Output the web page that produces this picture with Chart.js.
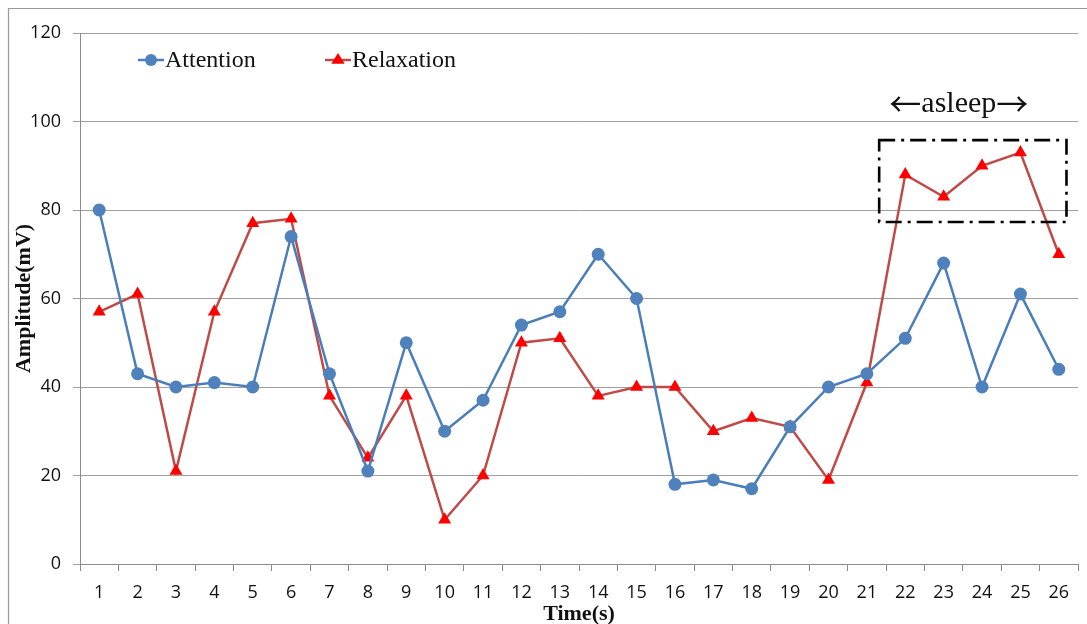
<!DOCTYPE html>
<html>
<head>
<meta charset="utf-8">
<title>Attention and Relaxation amplitude over time</title>
<script src="https://cdn.jsdelivr.net/npm/chart.js@4/dist/chart.umd.min.js"></script>
<style>
  html, body { margin: 0; padding: 0; background: #ffffff; }
  #wrap { width: 1087px; height: 624px; position: relative; }
</style>
</head>
<body>
<div id="wrap"><canvas id="chart"></canvas></div>
<script>
// Time axis (seconds)
const timeLabels = ['1','2','3','4','5','6','7','8','9','10','11','12','13',
                    '14','15','16','17','18','19','20','21','22','23','24','25','26'];

// Amplitude readings (mV)
const attention  = [80, 43, 40, 41, 40, 74, 43, 21, 50, 30, 37, 54, 57,
                    70, 60, 18, 19, 17, 31, 40, 43, 51, 68, 40, 61, 44];
const relaxation = [57, 61, 21, 57, 77, 78, 38, 24, 38, 10, 20, 50, 51,
                    38, 40, 40, 30, 33, 31, 19, 41, 88, 83, 90, 93, 70];

// Y axis range and step
const yMin = 0, yMax = 120, yStep = 20;

// Region marked as sleep: category-index span and amplitude span
const asleepX = [20.32, 25.2];
const asleepY = [77.3, 95.8];
const asleepWord = 'asleep';
const arrowLeft = '\u2190', arrowRight = '\u2192';

const serif = '"Liberation Serif", "Times New Roman", serif';
const sans = '"Open Sans", "Liberation Sans", Arial, sans-serif';
const arrowFont = '"Noto Sans CJK JP", "DejaVu Sans", sans-serif';

const styles = {
  attention:  { line: '#4A7EBB', marker: '#4F81BD', shape: 'circle',   radius: 6.5 },
  relaxation: { line: '#BE4B48', marker: '#FF0000', shape: 'triangle', radius: 7.5 }
};

// Outer frame of the chart object (left and top edges)
const framePlugin = {
  id: 'frame',
  beforeDraw(chart) {
    const ctx = chart.ctx;
    ctx.save();
    ctx.strokeStyle = '#9a9a9a';
    ctx.lineWidth = 1.2;
    ctx.beginPath();
    ctx.moveTo(8.5, 624);
    ctx.lineTo(8.5, 8.5);
    ctx.lineTo(1087, 8.5);
    ctx.stroke();
    ctx.restore();
  }
};

// Legend drawn inside the plot: line segment + marker + label
const inlineLegend = {
  id: 'inlineLegend',
  afterDraw(chart) {
    const ctx = chart.ctx;
    const items = [
      { ds: chart.data.datasets[0], x: 138 },
      { ds: chart.data.datasets[1], x: 325 }
    ];
    const y = 60;
    ctx.save();
    items.forEach(it => {
      const ds = it.ds;
      const cx = it.x + 13;
      ctx.strokeStyle = ds.borderColor;
      ctx.lineWidth = 2.5;
      ctx.beginPath();
      ctx.moveTo(it.x, y);
      ctx.lineTo(it.x + 26, y);
      ctx.stroke();
      ctx.fillStyle = ds.pointBackgroundColor;
      ctx.beginPath();
      if (ds.pointStyle === 'circle') {
        ctx.arc(cx, y, 6, 0, Math.PI * 2);
      } else {
        const r = 7;
        ctx.moveTo(cx, y - r);
        ctx.lineTo(cx + r * 0.95, y + r * 0.55);
        ctx.lineTo(cx - r * 0.95, y + r * 0.55);
        ctx.closePath();
      }
      ctx.fill();
      ctx.fillStyle = '#111111';
      ctx.font = '24px ' + serif;
      ctx.textBaseline = 'middle';
      ctx.textAlign = 'left';
      ctx.fillText(ds.label, it.x + 27, y + 1);
    });
    ctx.restore();
  }
};

// Dash-dot box around the sleep period with its caption
const asleepPlugin = {
  id: 'asleepBox',
  afterDatasetsDraw(chart) {
    const ctx = chart.ctx;
    const xs = chart.scales.x, ys = chart.scales.y;
    const x0 = xs.getPixelForValue(asleepX[0]);
    const x1 = xs.getPixelForValue(asleepX[1]);
    const y0 = ys.getPixelForValue(asleepY[1]);
    const y1 = ys.getPixelForValue(asleepY[0]);
    ctx.save();
    ctx.strokeStyle = '#000000';
    ctx.lineWidth = 2.6;
    ctx.setLineDash([16, 6, 3, 6]);
    ctx.strokeRect(x0, y0, x1 - x0, y1 - y0);
    ctx.setLineDash([]);

    // caption: arrow, word, arrow
    ctx.fillStyle = '#111111';
    ctx.textBaseline = 'alphabetic';
    ctx.textAlign = 'left';
    const wordFont = '30px ' + serif;
    const arrFont = '32px ' + arrowFont;
    ctx.font = wordFont;
    const ww = ctx.measureText(asleepWord).width;
    ctx.font = arrFont;
    const aw = ctx.measureText(arrowLeft).width;
    const total = aw * 2 + ww;
    const cx = (x0 + x1) / 2 - 14;
    const base = ys.getPixelForValue(102.2);
    let x = cx - total / 2;
    ctx.font = arrFont;
    ctx.textBaseline = 'middle';
    ctx.fillText(arrowLeft, x, base - 8);
    x += aw;
    ctx.font = wordFont;
    ctx.textBaseline = 'alphabetic';
    ctx.fillText(asleepWord, x, base);
    x += ww;
    ctx.font = arrFont;
    ctx.textBaseline = 'middle';
    ctx.fillText(arrowRight, x, base - 8);
    ctx.restore();
  }
};

const mkDataset = (label, data, s) => ({
  label: label,
  data: data,
  borderColor: s.line,
  backgroundColor: s.marker,
  borderWidth: 2.5,
  tension: 0,
  pointStyle: s.shape,
  pointRadius: s.radius,
  pointHoverRadius: s.radius,
  pointBackgroundColor: s.marker,
  pointBorderColor: s.marker,
  pointBorderWidth: 0
});

new Chart(document.getElementById('chart'), {
  type: 'line',
  data: {
    labels: timeLabels,
    datasets: [
      mkDataset('Attention', attention, styles.attention),
      mkDataset('Relaxation', relaxation, styles.relaxation)
    ]
  },
  options: {
    responsive: true,
    maintainAspectRatio: false,
    animation: false,
    layout: { padding: { left: 0, right: 9, top: 33, bottom: 0 } },
    plugins: {
      legend: { display: false },
      tooltip: { enabled: false }
    },
    scales: {
      x: {
        type: 'category',
        offset: true,
        grid: {
          offset: true,
          drawOnChartArea: false,
          drawTicks: true,
          tickLength: 7,
          color: '#8c8c8c',
          lineWidth: 1
        },
        border: { color: '#8c8c8c', width: 1 },
        ticks: {
          autoSkip: false,
          maxRotation: 0,
          padding: 11,
          color: '#111111',
          font: { family: sans, size: 18 }
        },
        title: {
          display: true,
          text: 'Time(s)',
          color: '#111111',
          font: { family: serif, size: 22, weight: 'bold' },
          padding: { top: 0, bottom: -4 }
        },
        afterFit(scale) { scale.height = 60; }
      },
      y: {
        min: yMin,
        max: yMax,
        grid: {
          color: '#a0a0a0',
          lineWidth: 1,
          tickLength: 7,
          drawTicks: true
        },
        border: { color: '#8c8c8c', width: 1 },
        ticks: {
          stepSize: yStep,
          padding: 12,
          color: '#111111',
          font: { family: sans, size: 18 }
        },
        title: {
          display: true,
          text: 'Amplitude(mV)',
          color: '#111111',
          font: { family: serif, size: 22, weight: 'bold' },
          padding: { top: 11, bottom: 0 }
        },
        afterFit(scale) { scale.width = 80; }
      }
    }
  },
  plugins: [framePlugin, asleepPlugin, inlineLegend]
});
</script>
</body>
</html>
